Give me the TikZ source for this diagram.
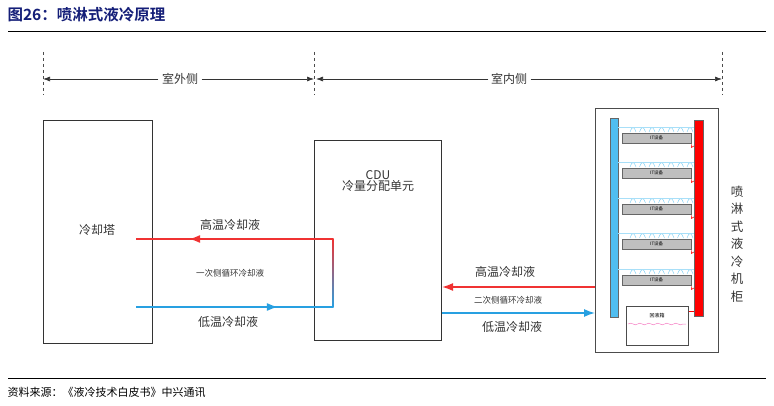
\documentclass[tikz,border=0pt]{standalone}
\usepackage{fontspec}
\setmainfont{Noto Sans CJK SC}
\newfontfamily\cjkb{Noto Sans CJK SC Bold}
\usetikzlibrary{arrows.meta,decorations.markings,decorations.pathmorphing}
\definecolor{tblue}{RGB}{20,30,120}
\definecolor{lred}{RGB}{240,50,50}
\definecolor{lblue}{RGB}{40,160,225}
\definecolor{bar}{RGB}{80,190,240}
\begin{document}
\begin{tikzpicture}[x=1pt,y=-1pt,
  box/.style={draw=black!80,line width=1.1pt},
  dim/.style={-{Latex[length=7pt,width=5pt]},line width=0.7pt,black!80},
  lbl/.style={font=\fontsize{12}{12}\selectfont,text=black!80},
  sm/.style={font=\fontsize{8.5}{8.5}\selectfont,text=black!80},
  midarr/.style={postaction={decorate},decoration={markings,mark=at position #1 with {\arrow{Latex[length=11pt,width=8pt]}}}},
  it/.style={draw=black!60,fill=black!25,minimum width=69pt,minimum height=10pt,inner sep=0pt,font=\fontsize{4.5}{4.5}\selectfont}]
\useasboundingbox (0,0) rectangle (774,406);
\node[anchor=west,text=tblue,font=\cjkb\fontsize{15.5}{15.5}\selectfont] (title) at (4,15) {图26：喷淋式液冷原理};
\draw[line width=0.8pt] (8,31) -- (766,31);
\draw[line width=0.8pt] (8,378) -- (766,378);
\node[anchor=west,font=\fontsize{11}{11}\selectfont] (src) at (4,392) {资料来源：《液冷技术白皮书》中兴通讯};
\foreach \x/\n in {43/da,314/db,722/dc}{
  \draw[dashed,black!70,line width=0.6pt] (\x,52) -- (\x,95);
  \coordinate (\n) at (\x,79);}
\node[lbl] (out) at (180,79) {室外侧};
\node[lbl] (in) at (509,79) {室内侧};
\draw[dim] (out.west) -- (da);
\draw[dim] (out.east) -- (db);
\draw[dim] ([xshift=1pt]in.west) -- ([xshift=2pt]db);
\draw[dim] (in.east) -- (dc);
\node[box,minimum width=109pt,minimum height=223pt,anchor=north west,inner sep=0pt] (tower) at (43,120) {};
\node[lbl] at (97,230) {冷却塔};
\node[box,minimum width=127pt,minimum height=200pt,anchor=north west,inner sep=0pt] (cdu) at (314,140) {};
\node[lbl,align=center] (cdut) at (378,181) {CDU\\[-1pt]冷量分配单元};
\coordinate (p1) at (333,239); \coordinate (p2) at (136,239);
\coordinate (p3) at (333,307); \coordinate (p4) at (136,307);
\draw[lred,line width=1.3pt,midarr=0.73] (p1) -- (p2);
\draw[lblue,line width=1.3pt,midarr=0.72] (p4) -- (p3);
\shade[top color=lred,bottom color=lblue] (332.3,239) rectangle (333.7,307);
\node[lbl] at (230,225) {高温冷却液};
\node[sm] at (230,273) {一次侧循环冷却液};
\node[lbl] at (228,322) {低温冷却液};
\node[draw=black!70,line width=1.3pt,minimum width=123pt,minimum height=244pt,anchor=north west,inner sep=0pt] (cab) at (595,108) {};
\draw[lred,line width=1.3pt,-{Latex[length=11pt,width=8pt]}] (cab.west |- 0,287) coordinate (r1) -- (cdu.east |- 0,287);
\draw[lblue,line width=1.3pt,-{Latex[length=11pt,width=8pt]}] (cdu.east |- 0,313) -- (cab.west |- 0,313);
\node[lbl] at (505,272) {高温冷却液};
\node[sm] at (508,300) {二次侧循环冷却液};
\node[lbl] at (512,327) {低温冷却液};
\node[draw=black!60,fill=bar,minimum width=8pt,minimum height=199pt,inner sep=0pt,anchor=north west] (bb) at (610,118) {};
\node[draw=black!60,fill=red,minimum width=9pt,minimum height=196pt,inner sep=0pt,anchor=north west] (rb) at (694,120) {};
\foreach \y [count=\i] in {133,168,204,239,275}{
  \foreach \k in {0,...,6}{
    \draw[bar!70,line width=0.5pt] (630+\k*9.5,\y-1) .. controls (632+\k*9.5,\y-7) and (634+\k*9.5,\y-7) .. (636+\k*9.5,\y-1);}
  \draw[bar!50,line width=0.5pt] (618,\y-6) -- (694,\y-6);
  \node[it,anchor=north west] (it\i) at (622,\y) {IT设备};
  \draw[red,line width=0.6pt] ([yshift=-1pt]it\i.south east) -- ++(0,3) -- (rb.west |- 0,\y+13);
}
\node[draw=black!70,line width=0.6pt,minimum width=62pt,minimum height=39pt,inner sep=0pt,anchor=north west] (tank) at (626,306) {};
\node[font=\fontsize{5}{5}\selectfont] at (657,316) {回液箱};
\draw[magenta!50,line width=0.5pt,decorate,decoration={snake,amplitude=0.8pt,segment length=9pt}] (628,324) -- (686,324);
\draw[red,line width=0.6pt] (tank.east |- 0,311) -- (rb.west |- 0,311);
\node[lbl,align=center,font=\fontsize{12.5}{17.5}\selectfont] (vt) at (737,244) {喷\\淋\\式\\液\\冷\\机\\柜};
\end{tikzpicture}
\end{document}
